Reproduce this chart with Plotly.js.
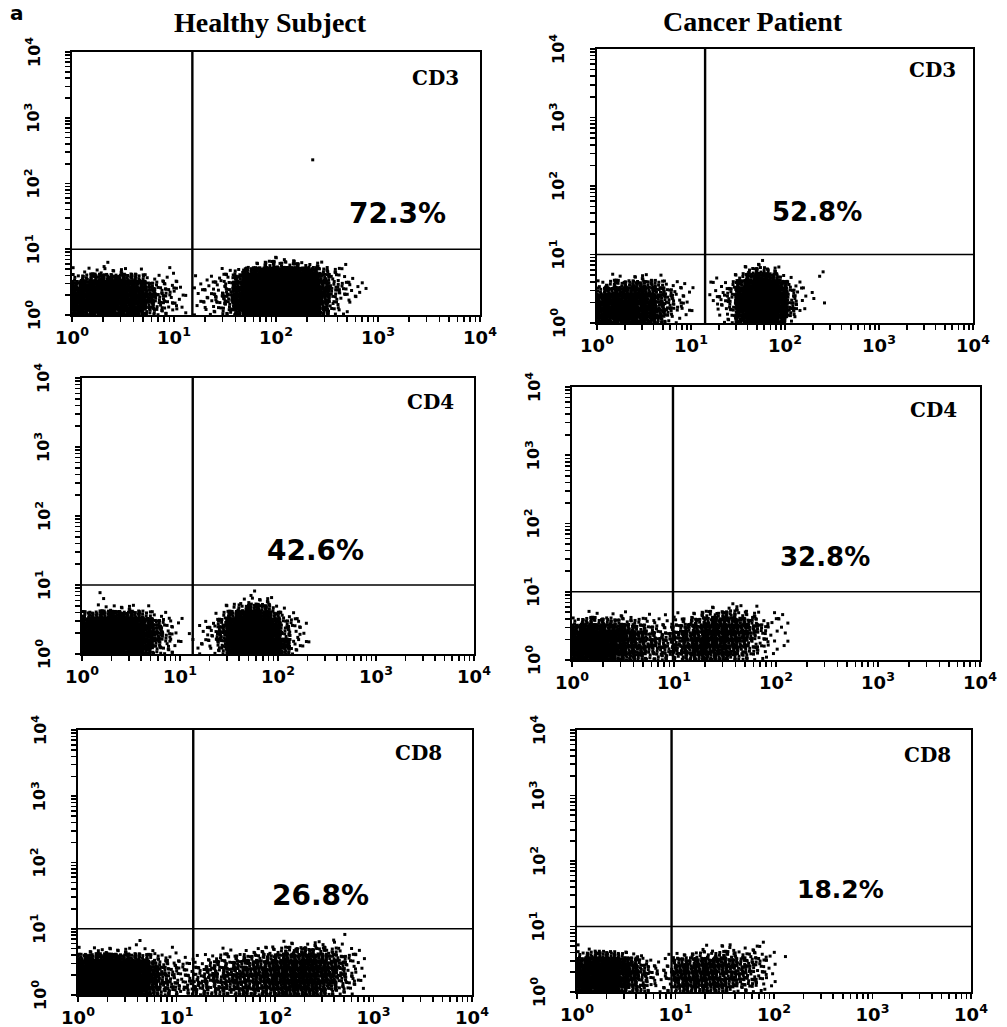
<!DOCTYPE html>
<html><head><meta charset="utf-8">
<script src="https://cdn.plot.ly/plotly-3.0.1.min.js"></script>
<style>html,body{margin:0;padding:0;background:#fff}#chart{width:1007px;height:1027px}</style>
</head><body><div id="chart"></div>
<script>
// ---------- data ----------
const COLUMN_TITLES = ['Healthy Subject', 'Cancer Patient'];
const PANEL_LABELS = ['CD3', 'CD3', 'CD4', 'CD4', 'CD8', 'CD8'];
const PERCENTAGES = ['72.3%', '52.8%', '42.6%', '32.8%', '26.8%', '18.2%'];
const DECADES = [1, 10, 100, 1000, 10000];
const DECADE_EXP = [0, 1, 2, 3, 4];
const DECADE_LABELS = ['10<sup>0</sup>', '10<sup>1</sup>', '10<sup>2</sup>', '10<sup>3</sup>', '10<sup>4</sup>'];
// quadrant gates (log10 units)
const GATE_X_LOG = [1.18, 1.15, 1.13, 0.99, 1.17, 0.96];
const GATE_Y_LOG = [1, 1, 1, 1, 1, 1];
// event density: rows top (log y 0.9-1.0) to bottom (0-0.1),
// each character = density level 0-9 in a cell 0.1 decade wide (x) and 0.1 decade tall (y)
const DENSITY_HS_CD3 = [
  "",
  "0000000000000000000111",
  "000100000000000001233332101",
  "1121211001000011368999874210",
  "3456654211001112599999985211",
  "67888764221011236999999963211",
  "78888875321011237999999973211",
  "78888876321012247999999963110",
  "7888887532101123799999996210",
  "677877642110111369999998521"
];
const DENSITY_CP_CD3 = [
  "",
  "000000000000000011",
  "000000000000000134210001",
  "0111211000001013676310",
  "23445432110011268986210",
  "45666543110011379997311",
  "677776532100123899983101",
  "7888775321001138999841",
  "7888875311000127999831",
  "677776421000012689862"
];
const DENSITY_HS_CD4 = [
  "",
  "001000000000000001",
  "00000000000000001221",
  "0112211000000012465310",
  "4567653210000126897521",
  "78999864210011489997321",
  "89999975210012599998421",
  "89999975310112599998311",
  "89999974210111499999721",
  "78888863210011389999511"
];
const DENSITY_CP_CD4 = [
  "",
  "",
  "000000000000011211",
  "011111011011234432111",
  "344433221123455554211",
  "677665432234566654311",
  "888876543345566654210",
  "899876544345666553211",
  "89987654434566654321",
  "7887654333345554321"
];
const DENSITY_HS_CD8 = [
  "",
  "000000000000000000000000001",
  "000000100000000000001112211",
  "12222111010000111122334433211",
  "56776543211112223334455554321",
  "89999875322123334445566665421",
  "99999986422223344455666665421",
  "99999986432233444455666655321",
  "99999986432333444445566655321",
  "89999975332233334444555543211"
];
const DENSITY_CP_CD8 = [
  "",
  "",
  "0000000000000000001",
  "1000000000000112111",
  "345432100122333322211",
  "67886531114455544321",
  "78887542125555544321",
  "78887642125555443321",
  "78887532125555543321",
  "6787643112444443221"
];
// isolated events (log10 units)
const EXTRA_X_LOG = [[2.36], [], [], [], [], []];
const EXTRA_Y_LOG = [[2.36], [], [], [], [], []];

const DENSITIES = [DENSITY_HS_CD3, DENSITY_CP_CD3, DENSITY_HS_CD4, DENSITY_CP_CD4, DENSITY_HS_CD8, DENSITY_CP_CD8];

// ---------- rendering helpers ----------
const LEVEL_COUNT = [0, 2, 5, 9, 14, 20, 27, 35, 44, 55];
const CELL = 0.1, SPREAD = 1.5;
function frac(v) { return v - Math.floor(v); }
function buildCloud(rows, ex, ey) {
  const xs = [], ys = [];
  const n = rows.length;
  rows.forEach((row, ri) => {
    const r = n - 1 - ri;
    for (let c = 0; c < row.length; c++) {
      const cnt = LEVEL_COUNT[+row[c]];
      const s = frac(c * 0.6180339887 + r * 0.4142135624);
      const t = frac(c * 0.3819660113 + r * 0.7320508076);
      for (let k = 0; k < cnt; k++) {
        const fx = frac(s + (k + 1) * 0.7548776662);
        const fy = frac(t + (k + 1) * 0.5698402910);
        let lx = (c + 0.5 + (fx - 0.5) * SPREAD) * CELL;
        let ly = (r + 0.5 + (fy - 0.5) * SPREAD) * CELL;
        if (lx < 0) lx = -lx;
        if (ly < 0) ly = -ly;
        xs.push(Math.pow(10, lx));
        ys.push(Math.pow(10, ly));
      }
    }
  });
  ex.forEach((v, i) => { xs.push(Math.pow(10, v)); ys.push(Math.pow(10, ey[i])); });
  return { xs, ys };
}

// panel boxes in pixels [left, right, top, bottom]
const W = 1007, H = 1027;
const BOX = [[72, 480, 52, 315], [597, 973, 49, 323], [82, 474, 378, 654], [572, 980, 387, 660], [78, 472, 730, 995], [577, 971, 730, 992]];
const LABEL_POS = [[435, 78], [932, 70], [430, 402], [933, 410], [418, 753], [927, 755]];
const PCT_POS = [[397, 213], [817, 212], [315, 550], [825, 557], [320, 895], [840, 889]];
const PCT_SIZE = [28, 26, 28, 26, 28, 25];
const TITLE_POS = [[270, 23], [753, 22]];

// all tick positions (decades + intermediate), labels only on decades
const allTicks = [], allText = [];
for (let d = 0; d <= 4; d++) {
  for (let m = 1; m <= 9; m++) {
    if (d === 4 && m > 1) break;
    allTicks.push(m * Math.pow(10, d));
    allText.push(m === 1 ? DECADE_LABELS[d] : '');
  }
}

const traces = [];
const layout = {
  width: W, height: H, margin: { l: 0, r: 0, t: 0, b: 0 },
  paper_bgcolor: '#fff', plot_bgcolor: '#fff', showlegend: false,
  annotations: [], font: { family: 'DejaVu Sans', color: '#000' }
};
const px = x => x / W, py = y => 1 - y / H;

for (let i = 0; i < 6; i++) {
  const sfx = i === 0 ? '' : String(i + 1);
  const xa = 'x' + sfx, ya = 'y' + sfx;
  const cl = buildCloud(DENSITIES[i], EXTRA_X_LOG[i], EXTRA_Y_LOG[i]);
  traces.push({
    type: 'scatter', mode: 'markers', x: cl.xs, y: cl.ys, xaxis: xa, yaxis: ya,
    marker: { size: 3, symbol: 'square', color: '#000', line: { width: 0 } }, hoverinfo: 'skip'
  });
  const gx = Math.pow(10, GATE_X_LOG[i]), gy = Math.pow(10, GATE_Y_LOG[i]);
  traces.push({ type: 'scatter', mode: 'lines', x: [gx, gx], y: [1, 10000], xaxis: xa, yaxis: ya,
    line: { color: '#000', width: 2.4 }, hoverinfo: 'skip' });
  traces.push({ type: 'scatter', mode: 'lines', x: [1, 10000], y: [gy, gy], xaxis: xa, yaxis: ya,
    line: { color: '#000', width: 1.7 }, hoverinfo: 'skip' });
  const b = BOX[i];
  const common = {
    type: 'log', range: [0, 4], showgrid: false, zeroline: false,
    showline: true, linecolor: '#000', linewidth: 2, mirror: true,
    ticks: 'outside', ticklen: 5, tickwidth: 1.6, tickcolor: '#000',
    tickmode: 'array', tickvals: allTicks, ticktext: allText
  };
  layout['xaxis' + sfx] = Object.assign({}, common, {
    domain: [px(b[0]), px(b[1])], anchor: ya,
    tickfont: { family: 'DejaVu Sans', size: 18, weight: 'bold', color: '#000' }
  });
  layout['yaxis' + sfx] = Object.assign({}, common, {
    domain: [py(b[3]), py(b[2])], anchor: xa, showticklabels: false
  });
  // rotated y tick labels
  DECADE_EXP.forEach((e, k) => {
    layout.annotations.push({
      xref: 'paper', yref: ya, x: px(b[0] - 39), y: e, xanchor: 'center', yanchor: 'middle',
      showarrow: false, textangle: -90, text: DECADE_LABELS[k],
      font: { family: 'DejaVu Sans', size: 16, weight: 'bold', color: '#000' }
    });
  });
  layout.annotations.push({
    xref: 'paper', yref: 'paper', x: px(LABEL_POS[i][0]), y: py(LABEL_POS[i][1]),
    xanchor: 'center', yanchor: 'middle', showarrow: false, text: PANEL_LABELS[i],
    font: { family: 'DejaVu Serif', size: 20, weight: 'bold', color: '#000' }
  });
  layout.annotations.push({
    xref: 'paper', yref: 'paper', x: px(PCT_POS[i][0]), y: py(PCT_POS[i][1]),
    xanchor: 'center', yanchor: 'middle', showarrow: false, text: PERCENTAGES[i],
    font: { family: 'DejaVu Sans', size: PCT_SIZE[i], weight: 'bold', color: '#000' }
  });
}
COLUMN_TITLES.forEach((t, j) => {
  layout.annotations.push({
    xref: 'paper', yref: 'paper', x: px(TITLE_POS[j][0]), y: py(TITLE_POS[j][1]),
    xanchor: 'center', yanchor: 'middle', showarrow: false, text: t,
    font: { family: 'Liberation Serif', size: 28, weight: 'bold', color: '#000' }
  });
});
layout.annotations.push({
  xref: 'paper', yref: 'paper', x: px(17), y: py(13), xanchor: 'center', yanchor: 'middle',
  showarrow: false, text: 'a', font: { family: 'DejaVu Sans', size: 20, weight: 'bold', color: '#000' }
});

Plotly.newPlot('chart', traces, layout, { staticPlot: true, displayModeBar: false });
</script>
</body></html>
